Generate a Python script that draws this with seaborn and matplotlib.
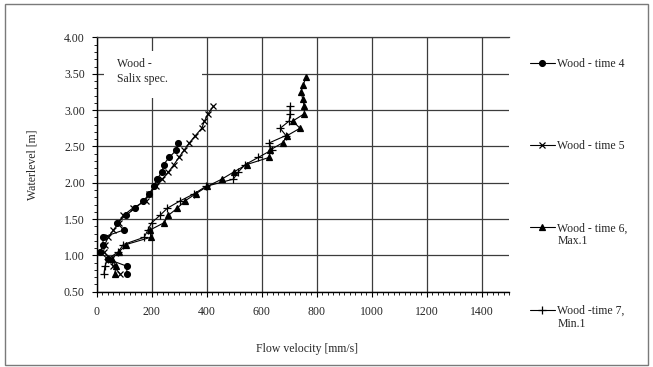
import numpy as np
import pandas as pd
import matplotlib
matplotlib.use("Agg")
import matplotlib.pyplot as plt
from matplotlib.patches import Rectangle
from matplotlib.ticker import MultipleLocator, FormatStrFormatter
import seaborn as sns

# water levels [m] at which velocities were measured
level_t4 = [0.75, 0.85, 0.95, 1.05, 1.15, 1.25, 1.35, 1.45, 1.55, 1.65, 1.75, 1.85, 1.95,
            2.05, 2.15, 2.25, 2.35, 2.45, 2.55]
vel_t4 = [109, 111, 40, 12, 24, 22, 99, 73, 106, 140, 170, 192, 207,
          219, 238, 243, 264, 290, 297]

level_t5 = [0.75, 0.85, 0.95, 1.05, 1.15, 1.25, 1.35, 1.45, 1.55, 1.65, 1.75, 1.85, 1.95,
            2.05, 2.15, 2.25, 2.35, 2.45, 2.55, 2.65, 2.75, 2.85, 2.95, 3.05]
vel_t5 = [85, 61, 51, 25, 30, 42, 61, 80, 97, 131, 178, 190, 216,
          238, 261, 281, 299, 318, 337, 359, 382, 392, 405, 424]

level_t6 = [0.75, 0.85, 0.95, 1.05, 1.15, 1.25, 1.35, 1.45, 1.55, 1.65, 1.75, 1.85, 1.95,
            2.05, 2.15, 2.25, 2.35, 2.45, 2.55, 2.65, 2.75, 2.85, 2.95, 3.05, 3.15, 3.25,
            3.35, 3.45]
vel_t6 = [66, 70, 54, 82, 107, 197, 194, 245, 260, 293, 321, 361, 402,
          455, 499, 545, 628, 630, 676, 693, 739, 713, 755, 755, 749, 743,
          751, 761]

level_t7 = [0.75, 0.85, 0.95, 1.05, 1.15, 1.25, 1.35, 1.45, 1.55, 1.65, 1.75, 1.85, 1.95,
            2.05, 2.15, 2.25, 2.35, 2.45, 2.55, 2.65, 2.75, 2.85, 2.95, 3.05]
vel_t7 = [27, 30, 40, 79, 97, 173, 186, 200, 230, 257, 303, 355, 397,
          497, 515, 540, 588, 636, 628, 688, 667, 700, 703, 703]

labels = ["Wood - time 4", "Wood - time 5", "Wood - time 6,", "Wood -time 7,"]
label_extra = ["", "", "Max.1", "Min.1"]
markers = ["o", "x", "^", "+"]
x_ticks = [0, 200, 400, 600, 800, 1000, 1200, 1400]
y_ticks = [0.5, 1.0, 1.5, 2.0, 2.5, 3.0, 3.5, 4.0]

sns.set_style("white")
plt.rcParams["font.family"] = ["Liberation Serif", "DejaVu Serif"]
plt.rcParams["font.size"] = 8.5

fig = plt.figure(figsize=(6.53, 3.67), dpi=100)
ax = fig.add_axes([0.148, 0.205, 0.632, 0.693])

series = [(vel_t4, level_t4), (vel_t5, level_t5), (vel_t6, level_t6), (vel_t7, level_t7)]
handles = []
for (v, h), lab, m in zip(series, labels, markers):
    df = pd.DataFrame({"vel": v, "level": h})
    ms = {"o": 4.2, "x": 4.5, "^": 4.6, "+": 6}[m]
    sns.lineplot(data=df, x="vel", y="level", orient="y", sort=False, estimator=None,
                 color="black", lw=0.8, marker=m, markersize=ms,
                 markeredgecolor="black", markerfacecolor="black", markeredgewidth=0.9,
                 ax=ax, zorder=5, label=lab)
    handles.append(ax.lines[-1])

ax.set_xlim(0, 1500)
ax.set_ylim(0.5, 4.0)
ax.set_xticks(x_ticks)
ax.set_yticks(y_ticks)
ax.yaxis.set_major_formatter(FormatStrFormatter("%.2f"))
ax.xaxis.set_minor_locator(MultipleLocator(20))
ax.yaxis.set_minor_locator(MultipleLocator(0.1))
ax.tick_params(which="major", direction="out", length=3.5, width=0.8, color="black",
               labelsize=8.5, pad=5)
ax.tick_params(axis="x", which="major", pad=7)
ax.tick_params(which="minor", direction="out", length=2, width=0.6, color="black")
ax.tick_params(axis="both", which="both", bottom=True, left=True)

ax.grid(True, which="major", color="#3c3c3c", lw=0.9)
for s in ["left", "bottom"]:
    ax.spines[s].set_color("black")
    ax.spines[s].set_linewidth(1.0)
ax.spines["top"].set_color("#3c3c3c")
ax.spines["top"].set_linewidth(0.9)
ax.spines["right"].set_visible(False)

ax.set_xlabel("Flow velocity [mm/s]", fontsize=8.5)
ax.set_ylabel("Waterlevel [m]", fontsize=8.5)
ax.xaxis.set_label_coords(0.51, -0.2)
ax.yaxis.set_label_coords(-0.14, 0.5)

# white label box over the grid
ax.add_patch(Rectangle((27, 3.17), 356, 0.64, facecolor="white", edgecolor="none", zorder=3))
ax.text(74, 3.72, "Wood -\nSalix spec.", fontsize=8.5, va="top", ha="left",
        linespacing=1.35, zorder=4)

leg = ax.legend(handles=handles, labels=labels, loc="upper left",
                bbox_to_anchor=(530 / 653, 1 - 58 / 367), bbox_transform=fig.transFigure,
                frameon=False, handlelength=2.1, handletextpad=0.2, labelspacing=5.95,
                borderpad=0, borderaxespad=0, fontsize=8.5)

fig.patches.append(Rectangle((5 / 653, 2 / 367), 643 / 653, 361 / 367, transform=fig.transFigure,
                             fill=False, edgecolor="#7a7a7a", lw=1.0))

fig.canvas.draw()
for t, extra in zip(leg.get_texts(), label_extra):
    if extra:
        bb = t.get_window_extent()
        fig.text(bb.x0 / fig.bbox.width, (bb.y0 - 13) / fig.bbox.height, extra,
                 fontsize=8.5, ha="left", va="bottom")

fig.savefig("out.png", dpi=100)
